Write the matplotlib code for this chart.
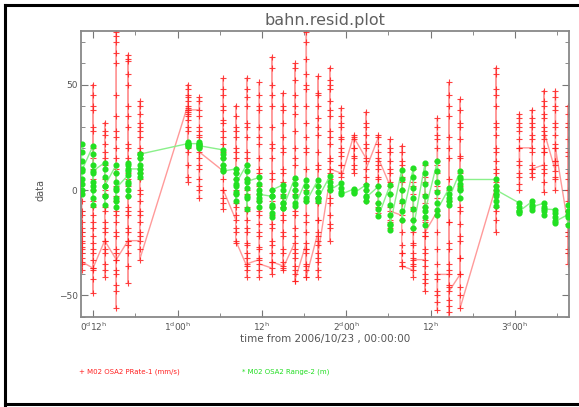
import numpy as np
import matplotlib.pyplot as plt
from matplotlib.lines import Line2D

# pass epochs, hours from 2006/10/23 00:00:00
hours_day0 = [10.33, 11.96, 13.62, 15.27, 16.94, 18.6]
hours_day1 = [25.43, 27.1, 30.5, 32.27, 33.83, 35.63, 37.4, 39.0, 40.67,
              42.32, 43.99, 45.65, 47.3]
hours_day2 = [49.07, 50.82, 52.57, 54.24, 55.9, 57.55, 59.22, 60.97, 62.63,
              64.2, 69.33]
hours_day3 = [72.65, 74.46, 76.12, 77.77, 79.54]

# M02 OSA2 PRate-1 residuals (mm/s), one list per pass
prate_day0 = [
    [-20, -5, -12, -18, -22, -25, -28, -15, -10, -30, -35, -38, -32, -27, -24, -34],
    [-37, -30, -25, -18, -12, -8, 0, 10, 20, 28, 38, 40, 45, 50, 30, 15, 5, -5, -15,
     -22, -28, -33, -38, -42, -49, -37],
    [-24, -30, -35, -41, -38, -28, -20, -15, -8, -2, 5, 12, 18, 22, 26, 32, 28, 15, 0,
     -10, -18, -24],
    [-33, -40, -48, -56, -45, -38, -30, -22, -15, -10, -5, 2, 8, 15, 20, 28, 35, 45,
     60, 70, 73, 75, 65, 25, 10, -3, -12, -20, -28, -33],
    [-24, -18, -12, -8, -3, 2, 8, 15, 22, 30, 40, 50, 61, 62, 64, 55, 35, 20, 5, -10,
     -20, -30, -36, -44, -26, -24],
    [-24, -20, -15, -10, -5, 0, 5, 10, 15, 20, 25, 28, 32, 36, 40, 42, 30, 18, 8, -2,
     -12, -22, -28, -33],
]
prate_day1 = [
    [40, 38, 36, 39, 42, 45, 48, 50, 44, 37, 35, 33, 28, 20, 12, 4, 6, 18, 30, 38],
    [38, 44, 42, 35, 30, 28, 25, 20, 15, 10, 5, 0, -4, 2, 12, 22, 26, 18],
    [9, 15, 22, 28, 33, 38, 45, 53, 48, 40, 32, 25, 18, 12, 5, 0, -4, -9, -6, 0],
    [-14, -8, -2, 5, 10, 15, 20, 25, 30, 35, 40, 28, 18, 8, 0, -6, -12, -18, -25, -20, -24],
    [-36, -30, -25, -20, -14, -8, -2, 5, 12, 18, 25, 32, 40, 48, 53, 44, 30, 15, 0, -10,
     -18, -26, -32, -38, -41, -35],
    [-33, -28, -22, -16, -10, -5, 2, 8, 15, 22, 30, 38, 45, 51, 40, 25, 10, -2, -12, -20,
     -27, -32, -38, -41, -35],
    [-37, -30, -24, -18, -12, -5, 0, 8, 15, 22, 30, 40, 50, 58, 63, 45, 20, 5, -8, -16,
     -26, -34, -40, -34],
    [-36, -30, -22, -14, -8, -2, 4, 10, 18, 25, 32, 40, 46, 38, 20, 8, -4, -12, -20, -28,
     -34, -38, -37],
    [-25, -30, -36, -43, -38, -28, -18, -10, -2, 5, 12, 20, 28, 36, 45, 52, 58, 60, 40,
     15, 0, -12, -22, -32, -40, -43],
    [-25, -30, -35, -41, -36, -28, -20, -12, -5, 2, 10, 18, 25, 32, 40, 48, 55, 62, 70,
     75, 50, 20, 0, -15, -28, -38, -41],
    [-20, -26, -32, -38, -41, -34, -24, -14, -6, 2, 10, 18, 26, 34, 40, 46, 54, 45, 30,
     12, -4, -14, -22, -30],
    [5, 0, -6, -12, -18, -24, -16, -4, 8, 15, 22, 28, 35, 42, 48, 52, 58, 50, 38, 25, 14, 10],
    [8, 12, 16, 20, 25, 30, 35, 39, 32, 24, 18, 12, 6],
]
prate_day2 = [
    [26, 24, 20, 16, 12, 8, 10, 15, 20, 25],
    [15, 20, 26, 32, 37, 30, 22, 14, 6, 0, -5, 3, 10],
    [25, 26, 22, 18, 14, 10, 6, 2, -2, -6, -11, -8, -2, 5, 12, 15],
    [2, 8, 14, 20, 24, 18, 10, 4, -2, -8, -14, -18, -15, -10],
    [-12, -6, 0, 6, 12, 18, 21, 14, 4, -6, -14, -20, -26, -30, -34, -36, -30, -36],
    [-38, -32, -26, -20, -14, -8, -2, 4, 10, 2, -10, -18, -25, -30, -35, -41, -36, -33],
    [-33, -28, -22, -15, -8, -2, 4, 12, 6, -6, -14, -22, -30, -36, -40, -44, -48, -42, -20],
    [-10, -4, 2, 8, 14, 20, 26, 30, 34, 24, 12, 0, -12, -20, -28, -35, -42, -48, -53,
     -57, -50, -40],
    [-40, -46, -52, -58, -62, -55, -45, -35, -25, -15, -5, 5, 15, 25, 35, 45, 51, 40,
     20, 0, -15, -28, -38, -48],
    [-40, -32, -24, -16, -8, 0, 8, 16, 24, 32, 38, 43, 30, 15, 2, -10, -22, -32, -40,
     -46, -50, -56],
    [2, 8, 14, 20, 26, 32, 40, 48, 55, 58, 45, 30, 18, 10, 4, -2, -8, -14, -20, -10, 0],
]
prate_day3 = [
    [30, 34, 36, 32, 28, 24, 20, 14, 8, 3, 0, 6, 12, 20],
    [20, 26, 32, 38, 34, 30, 24, 18, 12, 8, 6, 10, 10],
    [12, 18, 24, 30, 36, 42, 47, 40, 34, 26, 18, 10, 4, -1, 8, 20, 28],
    [9, 14, 20, 26, 32, 38, 44, 47, 40, 30, 22, 14, 6, 0, 5, 12, 20],
    [-16, -22, -28, -35, -30, -20, -10, 0, 8, 16, 24, 30, 36, 40, 32, 18, 5, -5, -12],
]

# M02 OSA2 Range-2 residuals (m)
range_day0 = [
    [22, 18, 14, 10, 5, 0, -2, 3, 9],
    [21, 17, 12, 8, 4, 0, -4, -7, 2, 9],
    [13, 10, 6, 2, -3, -7, -3, 2],
    [12, 8, 4, 0, -4, -8, -5, 1],
    [7, 12, 13, 9, 4, 0, -3, 3, 10],
    [10, 6, 8, 12, 15, 17, 17],
]
range_day1 = [
    [22, 21, 23, 22, 21, 22],
    [22, 23, 21, 20, 22, 21],
    [19, 17, 15, 12, 10, 9],
    [10, 8, 5, 2, -2, -5, -1, 3],
    [12, 9, 5, 1, -4, -9, -3, 4],
    [6, 3, 0, -4, -8, -5, -2],
    [-3, -7, -11, -13, -8, -3, 0],
    [2.5, 0, -3, -6, -8.5, -6, -8.5],
    [5.7, 3, 0, -3, -6, -7.7],
    [4.9, 2, -1, -4, -5.4],
    [4.9, 2, -1, -4, -5.4, -3.8],
    [6.5, 4, 2, 0],
    [3.3, 1, -1, -2],
]
range_day2 = [
    [0.5, -1, 0, -1.5],
    [2.5, 0, -3, -5.2, -3.5],
    [1.7, -2, -6, -9, -12.5],
    [2.5, -2, -7, -12, -16, -18.8, -16.4],
    [9.6, 5, 0, -5, -10, -14],
    [10.4, 6, 1, -4, -9, -14, -18],
    [12.8, 8, 3, -3, -8, -13, -16.4, -10],
    [13.6, 9, 4, -1, -6, -11.7, -9.3],
    [0.9, -2, -5, -7, -4],
    [8.9, 6, 3, 0, -3.8, 1, 5],
    [5, 2, -2, -5, -7.7, -3, 0],
]
range_day3 = [
    [-6.2, -8, -10, -11, -10],
    [-5.4, -7, -9.3, -8],
    [-6.2, -8, -10, -11.7, -9],
    [-9.3, -11, -13, -15.6, -14.8],
    [-11.7, -7, -10, -13, -16.4],
]

xtick_pos = [12, 24, 36, 48, 60, 72]
xtick_lab = [r'$\mathregular{0^{d}12^{h}}$', r'$\mathregular{1^{d}00^{h}}$',
             r'$\mathregular{12^{h}}$', r'$\mathregular{2^{d}00^{h}}$',
             r'$\mathregular{12^{h}}$', r'$\mathregular{3^{d}00^{h}}$']


def flatten(hours, vals):
    x, y = [], []
    for h, v in zip(hours, vals):
        x += [h] * len(v)
        y += list(v)
    return np.array(x), np.array(y)


W, H = 579, 407
fig = plt.figure(figsize=(W / 100, H / 100), dpi=100)
ax = fig.add_axes([81 / W, 1 - 317 / H, 488 / W, 286 / H])

# red: separate track before and after the gap at day 3
rx1, ry1 = flatten(hours_day0 + hours_day1 + hours_day2,
                   prate_day0 + prate_day1 + prate_day2)
rx2, ry2 = flatten(hours_day3, prate_day3)
for rx, ry in ((rx1, ry1), (rx2, ry2)):
    ax.plot(rx, ry, '-', color='#ff9a9a', lw=1.0, zorder=1)
    ax.plot(rx, ry, '+', color='#ff2020', ms=4.5, mew=0.8, alpha=0.85, zorder=2)

gx, gy = flatten(hours_day0 + hours_day1 + hours_day2 + hours_day3,
                 range_day0 + range_day1 + range_day2 + range_day3)
ax.plot(gx, gy, '-', color='#8af08a', lw=1.0, zorder=3)
ax.plot(gx, gy, 'o', color='#22e022', ms=3.4, mec='#22e022', zorder=4)

ax.set_xlim(10.25, 79.7)
ax.set_ylim(-60.2, 75.4)
ax.set_xticks(xtick_pos)
ax.set_xticklabels(xtick_lab)
ax.set_xticks([18, 30, 42, 54, 66, 78], minor=True)
ax.set_yticks([-50, 0, 50])
ax.set_yticks(np.arange(-60, 71, 10), minor=True)
ax.tick_params(which='both', direction='in', top=True, right=True,
               color='#777777', labelcolor='#555555', labelsize=6.5, pad=2.5)
ax.tick_params(which='major', length=5)
ax.tick_params(which='minor', length=3)
for s in ax.spines.values():
    s.set_color('#888888')
    s.set_linewidth(1.3)

fig.text(325 / W, 1 - 20 / H, 'bahn.resid.plot', ha='center', va='center',
         fontsize=11.5, color='#606060')
fig.text(40 / W, 1 - 190 / H, 'data', rotation=90, ha='center', va='center',
         fontsize=7, color='#555555')
fig.text(325 / W, 1 - 339 / H, 'time from 2006/10/23 , 00:00:00', ha='center',
         va='center', fontsize=7.5, color='#555555')
fig.text(79 / W, 1 - 372 / H, '+ M02 OSA2 PRate-1 (mm/s)', ha='left', va='center',
         fontsize=5, color='#ff2020')
fig.text(242 / W, 1 - 372 / H, '* M02 OSA2 Range-2 (m)', ha='left', va='center',
         fontsize=5, color='#22dd22')

# black frame round the page
for xs, ys in (((5, 5), (5, 405)), ((5, 579), (5, 5)), ((5, 579), (404, 404))):
    fig.add_artist(Line2D([x / W for x in xs], [1 - y / H for y in ys],
                          transform=fig.transFigure, color='black', lw=2.2))

fig.savefig('out.png', dpi=100)
